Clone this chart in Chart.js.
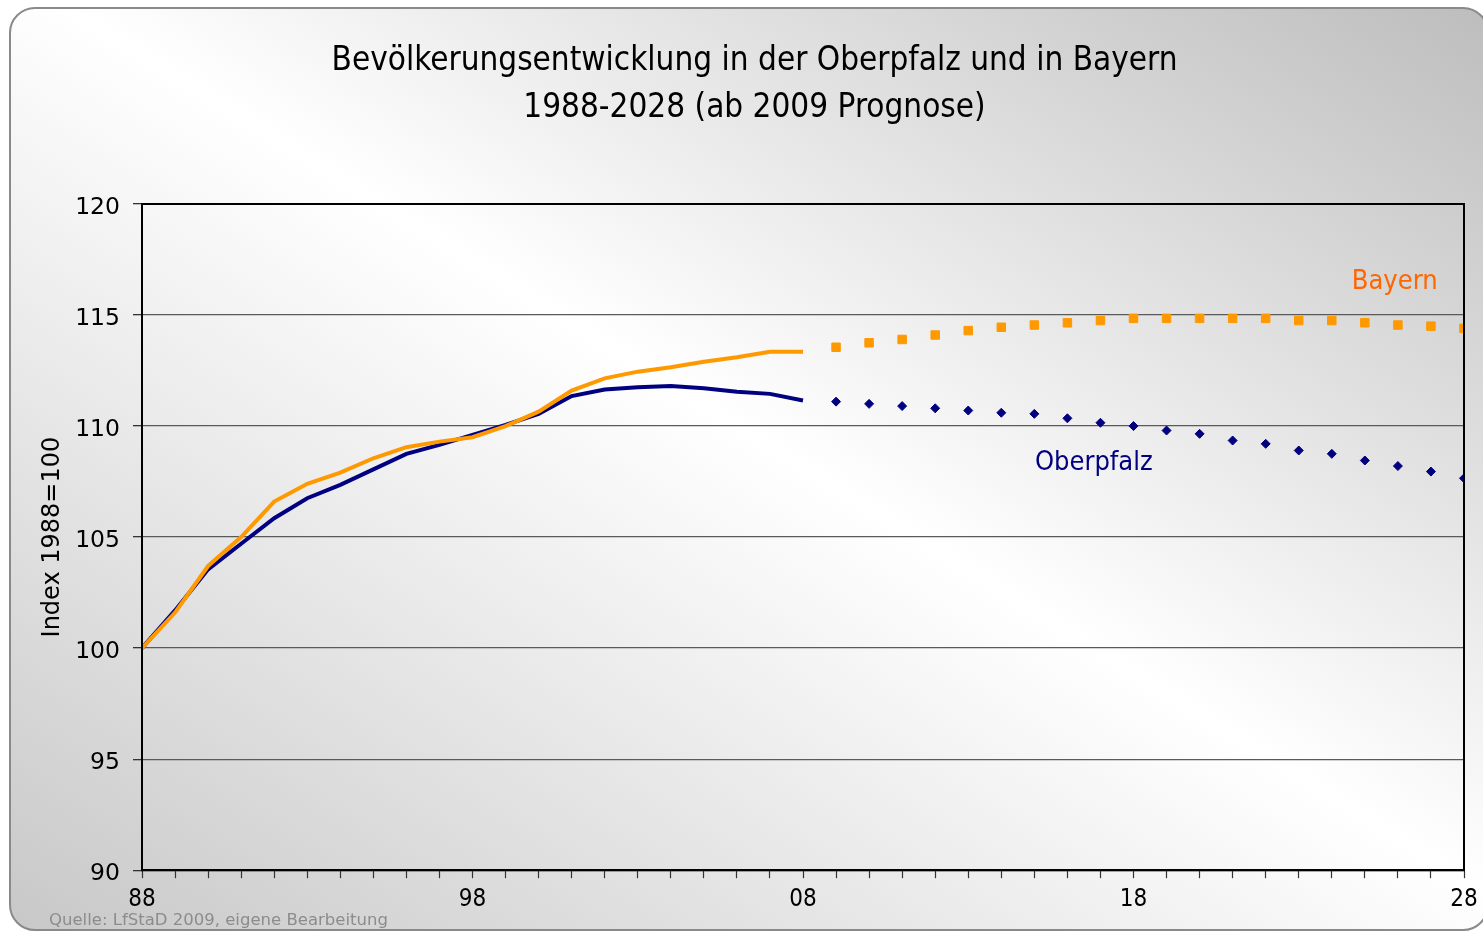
<!DOCTYPE html>
<html>
<head>
<meta charset="utf-8">
<script src="https://cdn.jsdelivr.net/npm/chart.js@4"></script>
<style>
  body { margin: 0; background: #fff; width: 1483px; height: 932px; overflow: hidden; position: relative; }
  #panel {
    position: absolute; left: 9px; top: 7px; width: 1480px; height: 924px;
    border: 2px solid #8a8a8a; border-radius: 26px; box-sizing: border-box;
    background: linear-gradient(to top right, #c8c8c8 0%, #ffffff 52%, #bdbdbd 100%);
  }
  #grafico { position: absolute; left: 0; top: 0; }
</style>
</head>
<body>
<div id="panel"></div>
<canvas id="grafico" width="1483" height="932"></canvas>
<script>
// Jahre: Ist-Werte 1988-2008, Prognose 2009-2028
const jahreIst = [1988, 1989, 1990, 1991, 1992, 1993, 1994, 1995, 1996, 1997, 1998,
  1999, 2000, 2001, 2002, 2003, 2004, 2005, 2006, 2007, 2008];
const jahrePrognose = [2009, 2010, 2011, 2012, 2013, 2014, 2015, 2016, 2017, 2018,
  2019, 2020, 2021, 2022, 2023, 2024, 2025, 2026, 2027, 2028];

const bayernIst = [100, 101.6, 103.7, 105.0, 106.6, 107.4, 107.9, 108.55, 109.05, 109.3, 109.5,
  110.0, 110.65, 111.6, 112.15, 112.45, 112.65, 112.9, 113.1, 113.35, 113.35];
const oberpfalzIst = [100, 101.7, 103.55, 104.7, 105.85, 106.75, 107.35, 108.05, 108.75, 109.15, 109.6,
  110.05, 110.55, 111.35, 111.65, 111.75, 111.8, 111.7, 111.55, 111.45, 111.15];

const bayernPrognose = [113.55, 113.75, 113.9, 114.1, 114.3, 114.45, 114.55, 114.65, 114.75, 114.85,
  114.85, 114.85, 114.85, 114.85, 114.75, 114.75, 114.65, 114.55, 114.5, 114.4];
const oberpfalzPrognose = [111.1, 111.0, 110.9, 110.8, 110.7, 110.6, 110.55, 110.35, 110.15, 110.0,
  109.8, 109.65, 109.35, 109.2, 108.9, 108.75, 108.45, 108.2, 107.95, 107.65];

const yTicks = [90, 95, 100, 105, 110, 115, 120];
const xLabelJahre = [1988, 1998, 2008, 2018, 2028];

const orange = "#ff9900";
const navy = "#000080";
const schmal = "'DejaVu Sans Condensed', 'DejaVu Sans', sans-serif";
const breit = "'DejaVu Sans', sans-serif";

const punkte = (jahre, werte) => jahre.map((j, i) => ({ x: j, y: werte[i] }));

// Rahmen + Beschriftungen
const extras = {
  id: "extras",
  afterDatasetsDraw(chart) {
    const { ctx, chartArea: a, scales: { x, y } } = chart;
    ctx.save();
    ctx.strokeStyle = "#000";
    ctx.lineWidth = 2;
    ctx.strokeRect(a.left, a.top, a.right - a.left, a.bottom - a.top);

    ctx.font = `27px ${schmal}`;
    ctx.textBaseline = "middle";
    ctx.fillStyle = "#ff6600";
    ctx.textAlign = "right";
    ctx.fillText("Bayern", x.getPixelForValue(2027.2), y.getPixelForValue(116.5));
    ctx.fillStyle = navy;
    ctx.textAlign = "center";
    ctx.fillText("Oberpfalz", x.getPixelForValue(2016.8), y.getPixelForValue(108.35));

    ctx.font = `16.5px ${breit}`;
    ctx.fillStyle = "#8c8c8c";
    ctx.textAlign = "left";
    ctx.fillText("Quelle: LfStaD 2009, eigene Bearbeitung", 49, 921);
    ctx.restore();
  }
};

new Chart(document.getElementById("grafico"), {
  type: "line",
  data: {
    datasets: [
      {
        label: "Bayern",
        data: punkte(jahreIst, bayernIst),
        borderColor: orange,
        borderWidth: 4,
        pointRadius: 0,
        tension: 0
      },
      {
        label: "Oberpfalz",
        data: punkte(jahreIst, oberpfalzIst),
        borderColor: navy,
        borderWidth: 4,
        pointRadius: 0,
        tension: 0
      },
      {
        label: "Bayern Prognose",
        data: punkte(jahrePrognose, bayernPrognose),
        showLine: false,
        pointStyle: "rect",
        pointRadius: 6,
        pointBackgroundColor: orange,
        pointBorderColor: orange,
        pointBorderWidth: 1
      },
      {
        label: "Oberpfalz Prognose",
        data: punkte(jahrePrognose, oberpfalzPrognose),
        showLine: false,
        pointStyle: "rectRot",
        pointRadius: 4.5,
        pointBackgroundColor: navy,
        pointBorderColor: navy,
        pointBorderWidth: 1
      }
    ]
  },
  options: {
    responsive: false,
    animation: false,
    layout: { padding: { left: 45, right: 19, top: 38, bottom: 11 } },
    plugins: {
      legend: { display: false },
      tooltip: { enabled: false },
      title: {
        display: true,
        text: ["Bevölkerungsentwicklung in der Oberpfalz und in Bayern", "1988-2028 (ab 2009 Prognose)"],
        color: "#000",
        font: { family: schmal, size: 33, weight: "normal", lineHeight: 47 / 33 },
        padding: { top: 0, bottom: 72 }
      }
    },
    scales: {
      x: {
        type: "linear",
        min: 1988,
        max: 2028,
        afterBuildTicks: scale => {
          scale.ticks = [];
          for (let j = 1988; j <= 2028; j++) scale.ticks.push({ value: j });
        },
        afterFit: scale => { scale.paddingLeft = 0; scale.paddingRight = 0; },
        ticks: {
          autoSkip: false,
          maxRotation: 0,
          padding: 7,
          color: "#000",
          font: { family: schmal, size: 24 },
          callback: v => xLabelJahre.includes(v) ? String(v).slice(2) : ""
        },
        grid: { drawOnChartArea: false, drawTicks: true, tickLength: 8, tickColor: "#333", tickWidth: 1.2 },
        border: { display: true, color: "#000", width: 2 }
      },
      y: {
        min: 90,
        max: 120,
        afterBuildTicks: scale => { scale.ticks = yTicks.map(v => ({ value: v })); },
        afterFit: scale => { scale.width = 97; },
        ticks: {
          padding: 13,
          labelOffset: 4,
          color: "#000",
          font: { family: breit, size: 23.5 }
        },
        grid: { color: "#5a5a5a", lineWidth: 1.3, tickLength: 9, tickColor: "#333" },
        border: { display: true, color: "#000", width: 2 },
        title: {
          display: true,
          text: "Index 1988=100",
          color: "#000",
          padding: { top: -7, bottom: 4 },
          font: { family: breit, size: 24 }
        }
      }
    }
  },
  plugins: [extras]
});
</script>
</body>
</html>
